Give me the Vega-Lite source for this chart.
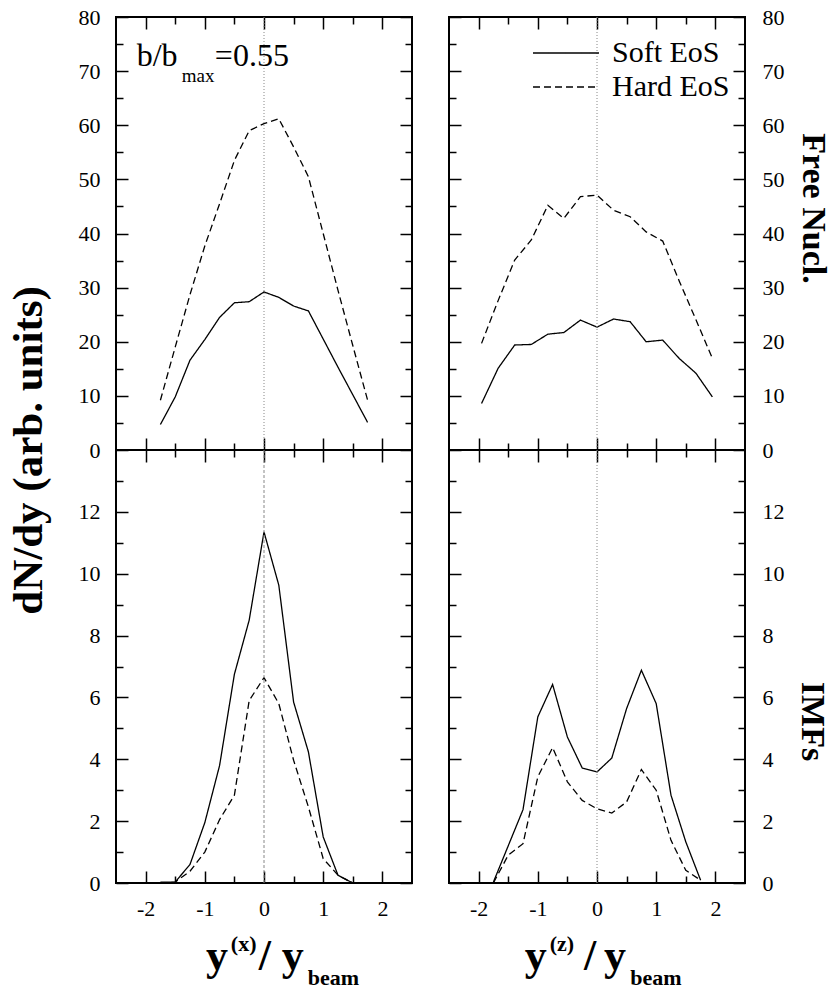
{
  "$schema": "https://vega.github.io/schema/vega-lite/v6.json",
  "background": "white",
  "padding": {"left": 6, "top": 5, "right": 10, "bottom": 5},
  "config": {
    "font": "Liberation Serif",
    "view": {"stroke": "black", "strokeWidth": 2},
    "text": {"font": "Liberation Serif"},
    "legend": {"labelFont": "Liberation Serif"},
    "axis": {"domain": false, "grid": false, "tickColor": "black", "tickWidth": 1.5, "labelFont": "Liberation Serif", "labelFontSize": 22, "labelColor": "black", "labelOverlap": false, "labelFlush": false, "titleFont": "Liberation Serif", "titleFontWeight": "bold", "titleColor": "black"}
  },
  "datasets": {
    "fx": [
      {"x": -1.75, "y": 4.7, "eos": "Soft EoS"}, {"x": -1.5, "y": 9.8, "eos": "Soft EoS"}, {"x": -1.25, "y": 16.6, "eos": "Soft EoS"}, {"x": -1, "y": 20.4, "eos": "Soft EoS"}, {"x": -0.75, "y": 24.5, "eos": "Soft EoS"}, {"x": -0.5, "y": 27.2, "eos": "Soft EoS"}, {"x": -0.25, "y": 27.4, "eos": "Soft EoS"}, {"x": 0, "y": 29.2, "eos": "Soft EoS"}, {"x": 0.25, "y": 28.2, "eos": "Soft EoS"}, {"x": 0.5, "y": 26.6, "eos": "Soft EoS"}, {"x": 0.75, "y": 25.7, "eos": "Soft EoS"}, {"x": 1, "y": 20.5, "eos": "Soft EoS"}, {"x": 1.25, "y": 15.3, "eos": "Soft EoS"}, {"x": 1.5, "y": 10.2, "eos": "Soft EoS"}, {"x": 1.75, "y": 5.1, "eos": "Soft EoS"},
      {"x": -1.75, "y": 9.2, "eos": "Hard EoS"}, {"x": -1.5, "y": 19, "eos": "Hard EoS"}, {"x": -1.25, "y": 28.7, "eos": "Hard EoS"}, {"x": -1, "y": 37.7, "eos": "Hard EoS"}, {"x": -0.75, "y": 45.5, "eos": "Hard EoS"}, {"x": -0.5, "y": 53.5, "eos": "Hard EoS"}, {"x": -0.25, "y": 59, "eos": "Hard EoS"}, {"x": 0, "y": 60.3, "eos": "Hard EoS"}, {"x": 0.25, "y": 61.2, "eos": "Hard EoS"}, {"x": 0.5, "y": 56, "eos": "Hard EoS"}, {"x": 0.75, "y": 50.5, "eos": "Hard EoS"}, {"x": 1, "y": 40, "eos": "Hard EoS"}, {"x": 1.25, "y": 29.5, "eos": "Hard EoS"}, {"x": 1.5, "y": 19.3, "eos": "Hard EoS"}, {"x": 1.75, "y": 9.2, "eos": "Hard EoS"}
    ],
    "fz": [
      {"x": -1.95, "y": 8.6, "eos": "Soft EoS"}, {"x": -1.67, "y": 15.1, "eos": "Soft EoS"}, {"x": -1.39, "y": 19.4, "eos": "Soft EoS"}, {"x": -1.11, "y": 19.5, "eos": "Soft EoS"}, {"x": -0.83, "y": 21.4, "eos": "Soft EoS"}, {"x": -0.56, "y": 21.7, "eos": "Soft EoS"}, {"x": -0.28, "y": 24.0, "eos": "Soft EoS"}, {"x": 0, "y": 22.7, "eos": "Soft EoS"}, {"x": 0.28, "y": 24.2, "eos": "Soft EoS"}, {"x": 0.56, "y": 23.7, "eos": "Soft EoS"}, {"x": 0.83, "y": 20.0, "eos": "Soft EoS"}, {"x": 1.11, "y": 20.3, "eos": "Soft EoS"}, {"x": 1.39, "y": 16.9, "eos": "Soft EoS"}, {"x": 1.67, "y": 14.2, "eos": "Soft EoS"}, {"x": 1.95, "y": 9.8, "eos": "Soft EoS"},
      {"x": -1.95, "y": 19.7, "eos": "Hard EoS"}, {"x": -1.67, "y": 27.6, "eos": "Hard EoS"}, {"x": -1.39, "y": 35.1, "eos": "Hard EoS"}, {"x": -1.11, "y": 38.8, "eos": "Hard EoS"}, {"x": -0.83, "y": 45.2, "eos": "Hard EoS"}, {"x": -0.56, "y": 42.8, "eos": "Hard EoS"}, {"x": -0.28, "y": 46.8, "eos": "Hard EoS"}, {"x": 0, "y": 47.1, "eos": "Hard EoS"}, {"x": 0.28, "y": 44.3, "eos": "Hard EoS"}, {"x": 0.56, "y": 43.1, "eos": "Hard EoS"}, {"x": 0.83, "y": 40.3, "eos": "Hard EoS"}, {"x": 1.11, "y": 38.6, "eos": "Hard EoS"}, {"x": 1.39, "y": 31.2, "eos": "Hard EoS"}, {"x": 1.67, "y": 24.1, "eos": "Hard EoS"}, {"x": 1.95, "y": 16.9, "eos": "Hard EoS"}
    ],
    "ix": [
      {"x": -1.75, "y": 0.03, "eos": "Soft EoS"}, {"x": -1.5, "y": 0.03, "eos": "Soft EoS"}, {"x": -1.25, "y": 0.6, "eos": "Soft EoS"}, {"x": -1, "y": 1.95, "eos": "Soft EoS"}, {"x": -0.75, "y": 3.8, "eos": "Soft EoS"}, {"x": -0.5, "y": 6.75, "eos": "Soft EoS"}, {"x": -0.25, "y": 8.5, "eos": "Soft EoS"}, {"x": 0, "y": 11.35, "eos": "Soft EoS"}, {"x": 0.25, "y": 9.63, "eos": "Soft EoS"}, {"x": 0.5, "y": 5.85, "eos": "Soft EoS"}, {"x": 0.75, "y": 4.24, "eos": "Soft EoS"}, {"x": 1, "y": 1.49, "eos": "Soft EoS"}, {"x": 1.25, "y": 0.25, "eos": "Soft EoS"}, {"x": 1.5, "y": 0, "eos": "Soft EoS"},
      {"x": -1.75, "y": 0, "eos": "Hard EoS"}, {"x": -1.5, "y": 0.03, "eos": "Hard EoS"}, {"x": -1.25, "y": 0.38, "eos": "Hard EoS"}, {"x": -1, "y": 1.0, "eos": "Hard EoS"}, {"x": -0.75, "y": 2.05, "eos": "Hard EoS"}, {"x": -0.5, "y": 2.84, "eos": "Hard EoS"}, {"x": -0.25, "y": 5.9, "eos": "Hard EoS"}, {"x": 0, "y": 6.64, "eos": "Hard EoS"}, {"x": 0.25, "y": 5.8, "eos": "Hard EoS"}, {"x": 0.5, "y": 3.97, "eos": "Hard EoS"}, {"x": 0.75, "y": 2.46, "eos": "Hard EoS"}, {"x": 1, "y": 0.79, "eos": "Hard EoS"}, {"x": 1.25, "y": 0.25, "eos": "Hard EoS"}, {"x": 1.5, "y": 0, "eos": "Hard EoS"}
    ],
    "iz": [
      {"x": -1.75, "y": 0.03, "eos": "Soft EoS"}, {"x": -1.5, "y": 1.2, "eos": "Soft EoS"}, {"x": -1.25, "y": 2.37, "eos": "Soft EoS"}, {"x": -1, "y": 5.37, "eos": "Soft EoS"}, {"x": -0.75, "y": 6.42, "eos": "Soft EoS"}, {"x": -0.5, "y": 4.72, "eos": "Soft EoS"}, {"x": -0.25, "y": 3.72, "eos": "Soft EoS"}, {"x": 0, "y": 3.59, "eos": "Soft EoS"}, {"x": 0.25, "y": 4.04, "eos": "Soft EoS"}, {"x": 0.5, "y": 5.64, "eos": "Soft EoS"}, {"x": 0.75, "y": 6.88, "eos": "Soft EoS"}, {"x": 1, "y": 5.8, "eos": "Soft EoS"}, {"x": 1.25, "y": 2.84, "eos": "Soft EoS"}, {"x": 1.5, "y": 1.33, "eos": "Soft EoS"}, {"x": 1.75, "y": 0.09, "eos": "Soft EoS"},
      {"x": -1.75, "y": 0, "eos": "Hard EoS"}, {"x": -1.5, "y": 0.9, "eos": "Hard EoS"}, {"x": -1.25, "y": 1.27, "eos": "Hard EoS"}, {"x": -1, "y": 3.43, "eos": "Hard EoS"}, {"x": -0.75, "y": 4.38, "eos": "Hard EoS"}, {"x": -0.5, "y": 3.27, "eos": "Hard EoS"}, {"x": -0.25, "y": 2.67, "eos": "Hard EoS"}, {"x": 0, "y": 2.4, "eos": "Hard EoS"}, {"x": 0.25, "y": 2.26, "eos": "Hard EoS"}, {"x": 0.5, "y": 2.62, "eos": "Hard EoS"}, {"x": 0.75, "y": 3.67, "eos": "Hard EoS"}, {"x": 1, "y": 3.0, "eos": "Hard EoS"}, {"x": 1.25, "y": 1.38, "eos": "Hard EoS"}, {"x": 1.5, "y": 0.41, "eos": "Hard EoS"}, {"x": 1.75, "y": 0.09, "eos": "Hard EoS"}
    ]
  },
  "columns": 2,
  "spacing": {"row": 0, "column": 37},
  "bounds": "flush",
  "resolve": {"scale": {"x": "independent", "y": "independent", "strokeDash": "independent"}, "legend": {"strokeDash": "independent"}},
  "concat": [
    {
      "width": 296, "height": 433,
      "resolve": {"axis": {"x": "independent", "y": "independent"}},
      "layer": [
        {
          "data": {"name": "fx"},
          "mark": {"type": "line", "color": "black", "strokeWidth": 1.3},
          "encoding": {
            "x": {"field": "x", "type": "quantitative", "scale": {"domain": [-2.5, 2.5], "nice": false, "zero": false},
                  "axis": {"orient": "bottom", "values": [-2, -1.5, -1, -0.5, 0, 0.5, 1, 1.5, 2], "labels": false, "title": null, "tickSize": {"condition": {"test": "datum.value % 1 === 0", "value": -12}, "value": -7}}},
            "y": {"field": "y", "type": "quantitative", "scale": {"domain": [0, 80], "nice": false},
                  "axis": {"orient": "left", "values": [0, 5, 10, 15, 20, 25, 30, 35, 40, 45, 50, 55, 60, 65, 70, 75, 80], "labelExpr": "datum.value % 10 === 0 ? '' + datum.value : ''", "labelFont": "Liberation Serif", "labelPadding": 28, "tickSize": {"condition": {"test": "datum.value % 10 === 0", "value": -12}, "value": -7},
                           "title": "dN/dy (arb. units)", "titleFont": "Liberation Serif", "titleFontSize": 43, "titleAngle": -90, "titleX": -88, "titleY": 433, "titleAlign": "center", "titleBaseline": "middle"}},
            "strokeDash": {"field": "eos", "type": "nominal", "scale": {"domain": ["Soft EoS", "Hard EoS"], "range": [[1, 0], [7, 4]]}, "legend": null}
          }
        },
        {
          "data": {"values": [{}]},
          "mark": {"type": "rule", "color": "#888", "strokeWidth": 1, "strokeDash": [1, 2]},
          "encoding": {
            "x": {"datum": 0, "type": "quantitative", "axis": {"orient": "top", "values": [-2, -1.5, -1, -0.5, 0, 0.5, 1, 1.5, 2], "labels": false, "title": null, "tickSize": {"condition": {"test": "datum.value % 1 === 0", "value": -12}, "value": -7}}},
            "y": {"datum": 0, "type": "quantitative", "axis": {"orient": "right", "values": [0, 5, 10, 15, 20, 25, 30, 35, 40, 45, 50, 55, 60, 65, 70, 75, 80], "labels": false, "title": null, "tickSize": {"condition": {"test": "datum.value % 10 === 0", "value": -12}, "value": -7}}},
            "y2": {"datum": 80}
          }
        },
        {
          "data": {"values": [{}]},
          "mark": {"type": "text", "text": "b/b", "font": "Liberation Serif", "fontSize": 32, "align": "left", "baseline": "alphabetic", "color": "black"},
          "encoding": {"x": {"datum": -2.15, "type": "quantitative", "axis": null}, "y": {"datum": 71, "type": "quantitative", "axis": null}}
        },
        {
          "data": {"values": [{}]},
          "mark": {"type": "text", "text": "max", "font": "Liberation Serif", "fontSize": 19, "align": "left", "baseline": "alphabetic", "color": "black"},
          "encoding": {"x": {"datum": -1.39, "type": "quantitative", "axis": null}, "y": {"datum": 67.9, "type": "quantitative", "axis": null}}
        },
        {
          "data": {"values": [{}]},
          "mark": {"type": "text", "text": "=0.55", "font": "Liberation Serif", "fontSize": 32, "align": "left", "baseline": "alphabetic", "color": "black"},
          "encoding": {"x": {"datum": -0.83, "type": "quantitative", "axis": null}, "y": {"datum": 71, "type": "quantitative", "axis": null}}
        }
      ]
    },
    {
      "width": 296, "height": 433,
      "resolve": {"axis": {"x": "independent", "y": "independent"}},
      "layer": [
        {
          "data": {"name": "fz"},
          "mark": {"type": "line", "color": "black", "strokeWidth": 1.3},
          "encoding": {
            "x": {"field": "x", "type": "quantitative", "scale": {"domain": [-2.5, 2.5], "nice": false, "zero": false},
                  "axis": {"orient": "bottom", "values": [-2, -1.5, -1, -0.5, 0, 0.5, 1, 1.5, 2], "labels": false, "title": null, "tickSize": {"condition": {"test": "datum.value % 1 === 0", "value": -12}, "value": -7}}},
            "y": {"field": "y", "type": "quantitative", "scale": {"domain": [0, 80], "nice": false},
                  "axis": {"orient": "right", "values": [0, 5, 10, 15, 20, 25, 30, 35, 40, 45, 50, 55, 60, 65, 70, 75, 80], "labelExpr": "datum.value % 10 === 0 ? '' + datum.value : ''", "labelFont": "Liberation Serif", "labelPadding": 29, "tickSize": {"condition": {"test": "datum.value % 10 === 0", "value": -12}, "value": -7},
                           "title": "Free Nucl.", "titleFont": "Liberation Serif", "titleFontSize": 34, "titleAngle": 90, "titleX": 67, "titleY": 191, "titleAlign": "center", "titleBaseline": "middle"}},
            "strokeDash": {"field": "eos", "type": "nominal", "scale": {"domain": ["Soft EoS", "Hard EoS"], "range": [[1, 0], [7, 4]]},
                           "legend": {"orient": "none", "legendX": 98, "legendY": 17, "padding": 0, "title": null, "symbolType": "M-1.833,0H1.833", "symbolSize": 1296, "symbolStrokeWidth": 1.3, "symbolStrokeColor": "black", "symbolFillColor": "transparent", "labelFont": "Liberation Serif", "labelFontSize": 30, "labelColor": "black", "labelOffset": 27, "rowPadding": 0}}
          }
        },
        {
          "data": {"values": [{}]},
          "mark": {"type": "rule", "color": "#888", "strokeWidth": 1, "strokeDash": [1, 2]},
          "encoding": {
            "x": {"datum": 0, "type": "quantitative", "axis": {"orient": "top", "values": [-2, -1.5, -1, -0.5, 0, 0.5, 1, 1.5, 2], "labels": false, "title": null, "tickSize": {"condition": {"test": "datum.value % 1 === 0", "value": -12}, "value": -7}}},
            "y": {"datum": 0, "type": "quantitative", "axis": {"orient": "left", "values": [0, 5, 10, 15, 20, 25, 30, 35, 40, 45, 50, 55, 60, 65, 70, 75, 80], "labels": false, "title": null, "tickSize": {"condition": {"test": "datum.value % 10 === 0", "value": -12}, "value": -7}}},
            "y2": {"datum": 80}
          }
        }
      ]
    },
    {
      "width": 296, "height": 433,
      "resolve": {"axis": {"x": "independent", "y": "independent"}},
      "layer": [
        {
          "data": {"name": "ix"},
          "mark": {"type": "line", "color": "black", "strokeWidth": 1.3},
          "encoding": {
            "x": {"field": "x", "type": "quantitative", "scale": {"domain": [-2.5, 2.5], "nice": false, "zero": false},
                  "axis": {"orient": "bottom", "values": [-2, -1.5, -1, -0.5, 0, 0.5, 1, 1.5, 2], "labelExpr": "datum.value % 1 === 0 ? '' + datum.value : ''", "labelFont": "Liberation Serif", "labelPadding": 27, "title": null, "tickSize": {"condition": {"test": "datum.value % 1 === 0", "value": -12}, "value": -7}}},
            "y": {"field": "y", "type": "quantitative", "scale": {"domain": [0, 14], "nice": false},
                  "axis": {"orient": "left", "values": [0, 1, 2, 3, 4, 5, 6, 7, 8, 9, 10, 11, 12, 13], "labelExpr": "datum.value % 2 === 0 ? '' + datum.value : ''", "labelFont": "Liberation Serif", "labelPadding": 28, "tickSize": {"condition": {"test": "datum.value % 2 === 0", "value": -12}, "value": -7}, "title": null}},
            "strokeDash": {"field": "eos", "type": "nominal", "scale": {"domain": ["Soft EoS", "Hard EoS"], "range": [[1, 0], [7, 4]]}, "legend": null}
          }
        },
        {
          "data": {"values": [{}]},
          "mark": {"type": "rule", "color": "#888", "strokeWidth": 1, "strokeDash": [3, 2]},
          "encoding": {
            "x": {"datum": 0, "type": "quantitative", "axis": {"orient": "top", "values": [-2, -1.5, -1, -0.5, 0, 0.5, 1, 1.5, 2], "labels": false, "title": null, "tickSize": {"condition": {"test": "datum.value % 1 === 0", "value": -12}, "value": -7}}},
            "y": {"datum": 0, "type": "quantitative", "axis": {"orient": "right", "values": [0, 1, 2, 3, 4, 5, 6, 7, 8, 9, 10, 11, 12, 13], "labels": false, "title": null, "tickSize": {"condition": {"test": "datum.value % 2 === 0", "value": -12}, "value": -7}}},
            "y2": {"datum": 14}
          }
        },
        {
          "data": {"values": [{}]},
          "mark": {"type": "text", "text": "y", "font": "Liberation Serif", "fontWeight": "bold", "fontSize": 44, "align": "left", "baseline": "alphabetic", "color": "black"},
          "encoding": {"x": {"datum": -0.98, "type": "quantitative", "axis": null}, "y": {"datum": -2.82, "type": "quantitative", "axis": null}}
        },
        {
          "data": {"values": [{}]},
          "mark": {"type": "text", "text": "(x)", "font": "Liberation Serif", "fontWeight": "bold", "fontSize": 22, "align": "left", "baseline": "alphabetic", "color": "black"},
          "encoding": {"x": {"datum": -0.56, "type": "quantitative", "axis": null}, "y": {"datum": -2.2, "type": "quantitative", "axis": null}}
        },
        {
          "data": {"values": [{}]},
          "mark": {"type": "text", "text": "/", "font": "Liberation Serif", "fontWeight": "bold", "fontSize": 44, "align": "left", "baseline": "alphabetic", "color": "black"},
          "encoding": {"x": {"datum": -0.09, "type": "quantitative", "axis": null}, "y": {"datum": -2.82, "type": "quantitative", "axis": null}}
        },
        {
          "data": {"values": [{}]},
          "mark": {"type": "text", "text": "y", "font": "Liberation Serif", "fontWeight": "bold", "fontSize": 44, "align": "left", "baseline": "alphabetic", "color": "black"},
          "encoding": {"x": {"datum": 0.3, "type": "quantitative", "axis": null}, "y": {"datum": -2.82, "type": "quantitative", "axis": null}}
        },
        {
          "data": {"values": [{}]},
          "mark": {"type": "text", "text": "beam", "font": "Liberation Serif", "fontWeight": "bold", "fontSize": 22, "align": "left", "baseline": "alphabetic", "color": "black"},
          "encoding": {"x": {"datum": 0.74, "type": "quantitative", "axis": null}, "y": {"datum": -3.31, "type": "quantitative", "axis": null}}
        }
      ]
    },
    {
      "width": 296, "height": 433,
      "resolve": {"axis": {"x": "independent", "y": "independent"}},
      "layer": [
        {
          "data": {"name": "iz"},
          "mark": {"type": "line", "color": "black", "strokeWidth": 1.3},
          "encoding": {
            "x": {"field": "x", "type": "quantitative", "scale": {"domain": [-2.5, 2.5], "nice": false, "zero": false},
                  "axis": {"orient": "bottom", "values": [-2, -1.5, -1, -0.5, 0, 0.5, 1, 1.5, 2], "labelExpr": "datum.value % 1 === 0 ? '' + datum.value : ''", "labelFont": "Liberation Serif", "labelPadding": 27, "title": null, "tickSize": {"condition": {"test": "datum.value % 1 === 0", "value": -12}, "value": -7}}},
            "y": {"field": "y", "type": "quantitative", "scale": {"domain": [0, 14], "nice": false},
                  "axis": {"orient": "right", "values": [0, 1, 2, 3, 4, 5, 6, 7, 8, 9, 10, 11, 12, 13], "labelExpr": "datum.value % 2 === 0 ? '' + datum.value : ''", "labelFont": "Liberation Serif", "labelPadding": 29, "tickSize": {"condition": {"test": "datum.value % 2 === 0", "value": -12}, "value": -7},
                           "title": "IMFs", "titleFont": "Liberation Serif", "titleFontSize": 34, "titleAngle": 90, "titleX": 66, "titleY": 271, "titleAlign": "center", "titleBaseline": "middle"}},
            "strokeDash": {"field": "eos", "type": "nominal", "scale": {"domain": ["Soft EoS", "Hard EoS"], "range": [[1, 0], [7, 4]]}, "legend": null}
          }
        },
        {
          "data": {"values": [{}]},
          "mark": {"type": "rule", "color": "#888", "strokeWidth": 1, "strokeDash": [1, 2]},
          "encoding": {
            "x": {"datum": 0, "type": "quantitative", "axis": {"orient": "top", "values": [-2, -1.5, -1, -0.5, 0, 0.5, 1, 1.5, 2], "labels": false, "title": null, "tickSize": {"condition": {"test": "datum.value % 1 === 0", "value": -12}, "value": -7}}},
            "y": {"datum": 0, "type": "quantitative", "axis": {"orient": "left", "values": [0, 1, 2, 3, 4, 5, 6, 7, 8, 9, 10, 11, 12, 13], "labels": false, "title": null, "tickSize": {"condition": {"test": "datum.value % 2 === 0", "value": -12}, "value": -7}}},
            "y2": {"datum": 14}
          }
        },
        {
          "data": {"values": [{}]},
          "mark": {"type": "text", "text": "y", "font": "Liberation Serif", "fontWeight": "bold", "fontSize": 44, "align": "left", "baseline": "alphabetic", "color": "black"},
          "encoding": {"x": {"datum": -1.22, "type": "quantitative", "axis": null}, "y": {"datum": -2.82, "type": "quantitative", "axis": null}}
        },
        {
          "data": {"values": [{}]},
          "mark": {"type": "text", "text": "(z)", "font": "Liberation Serif", "fontWeight": "bold", "fontSize": 22, "align": "left", "baseline": "alphabetic", "color": "black"},
          "encoding": {"x": {"datum": -0.8, "type": "quantitative", "axis": null}, "y": {"datum": -2.2, "type": "quantitative", "axis": null}}
        },
        {
          "data": {"values": [{}]},
          "mark": {"type": "text", "text": "/", "font": "Liberation Serif", "fontWeight": "bold", "fontSize": 44, "align": "left", "baseline": "alphabetic", "color": "black"},
          "encoding": {"x": {"datum": -0.22, "type": "quantitative", "axis": null}, "y": {"datum": -2.82, "type": "quantitative", "axis": null}}
        },
        {
          "data": {"values": [{}]},
          "mark": {"type": "text", "text": "y", "font": "Liberation Serif", "fontWeight": "bold", "fontSize": 44, "align": "left", "baseline": "alphabetic", "color": "black"},
          "encoding": {"x": {"datum": 0.12, "type": "quantitative", "axis": null}, "y": {"datum": -2.82, "type": "quantitative", "axis": null}}
        },
        {
          "data": {"values": [{}]},
          "mark": {"type": "text", "text": "beam", "font": "Liberation Serif", "fontWeight": "bold", "fontSize": 22, "align": "left", "baseline": "alphabetic", "color": "black"},
          "encoding": {"x": {"datum": 0.56, "type": "quantitative", "axis": null}, "y": {"datum": -3.31, "type": "quantitative", "axis": null}}
        }
      ]
    }
  ]
}
